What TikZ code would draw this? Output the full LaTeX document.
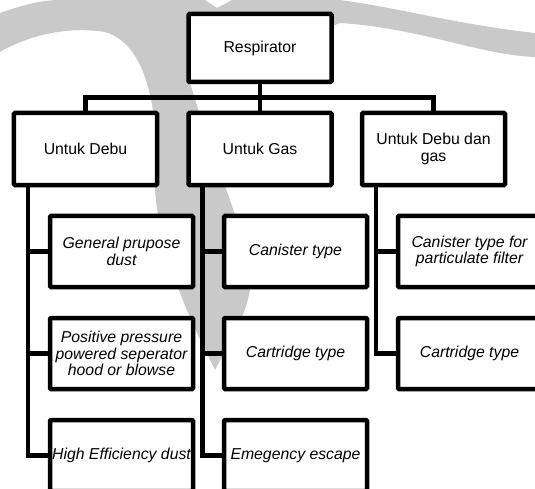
\documentclass[tikz,border=0pt]{standalone}
\usepackage{fontspec}
\setmainfont{Liberation Sans}
\usepackage{tikz}
\usetikzlibrary{calc}
\usetikzlibrary{positioning}
\tikzset{>=latex}
\tikzstyle{unit} = [rectangle, draw=black, line width=4.5bp, fill=white, rounded corners=1bp, inner sep=0, align=center, minimum width=143bp, minimum height=71bp, font=\fontsize{15.8bp}{16.7bp}\selectfont]
\tikzstyle{item} = [unit, font=\fontsize{15.8bp}{16.7bp}\selectfont\itshape]
\tikzstyle{link} = [-, line width=4.5bp, draw=black]

\begin{document}
\begin{tikzpicture}[x=1bp, y=-1bp]
\useasboundingbox (0,0) rectangle (535,489);
\clip (0,0) rectangle (535,489);
% watermark behind the chart
\fill[black!21] (0,13) .. controls (20,6) and (40,0) .. (60,0) -- (205,0) -- (217,8) -- (232,0) -- (340,0)
  .. controls (400,8) and (460,25) .. (535,33) -- (535,57) .. controls (480,55) and (420,28) .. (340,23)
  -- (190,82) .. controls (205,140) and (255,250) .. (250,290) .. controls (245,320) and (225,350) .. (215,370)
  .. controls (195,330) and (160,260) .. (155,190) .. controls (160,120) and (150,45) .. (105,32)
  .. controls (60,25) and (20,40) .. (0,52) -- cycle;

\node [unit, minimum height=68bp] (resp) at (260,48) {Respirator};
\node [unit, minimum height=72bp] (debu) at (85.5,149) {Untuk Debu};
\node [unit, minimum height=72bp] (gas) at (260,149) {Untuk Gas};
\node [unit, minimum height=72bp] (dg) at (433.5,149) {Untuk Debu dan\\gas};

\node [item] (gpd) at (121.5,251.5) {General prupose\\dust};
\node [item] (ppsh) at (121.5,353.5) {Positive pressure\\powered seperator\\hood or blowse};
\node [item] (hed) at (121.5,455.5) {High Efficiency dust};
\node [item] (cnt) at (295.5,251.5) {Canister type};
\node [item] (crt) at (295.5,353.5) {Cartridge type};
\node [item] (esc) at (295.5,455.5) {Emegency escape};
\node [item] (cpf) at (469.5,251.5) {Canister type for\\particulate filter};
\node [item] (crtb) at (469.5,353.5) {Cartridge type};

\draw [link] (resp.south) to (gas.north);
\draw [link] (debu.north) |- ($(resp.south)!.5!(gas.north)$) -| (dg.north);

\draw [link] ([xshift=-57.5bp]debu.south) |- (gpd.west);
\draw [link] ([xshift=-57.5bp]debu.south) |- (ppsh.west);
\draw [link] ([xshift=-57.5bp]debu.south) |- (hed.west);
\draw [link] ([xshift=-57.5bp]gas.south) |- (cnt.west);
\draw [link] ([xshift=-57.5bp]gas.south) |- (crt.west);
\draw [link] ([xshift=-57.5bp]gas.south) |- (esc.west);
\draw [link] ([xshift=-57.5bp]dg.south) |- (cpf.west);
\draw [link] ([xshift=-57.5bp]dg.south) |- (crtb.west);
\end{tikzpicture}
\end{document}
